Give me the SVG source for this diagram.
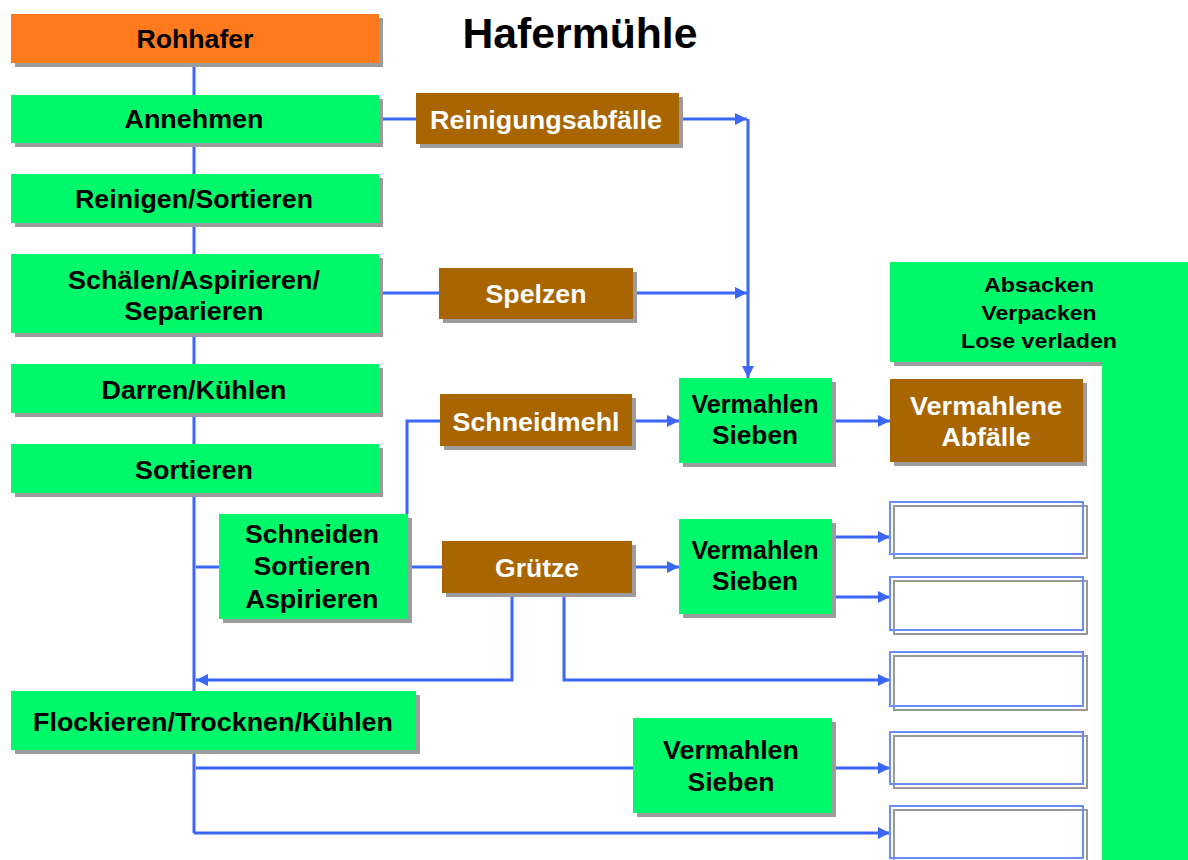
<svg xmlns="http://www.w3.org/2000/svg" width="1188" height="860" viewBox="0 0 1188 860">
<defs>
<style>
.sh{fill:#9c9c9c}
.g{fill:#00F96B}
.o{fill:#FF7A1C}
.b{fill:#A86500}
.t{font-family:"Liberation Sans",Arial,sans-serif;font-weight:bold;font-size:25px;text-anchor:middle;fill:#000}
.w{fill:#fff}
.c{fill:none;stroke:#3B66F7;stroke-width:3}
.eb{fill:none;stroke:#6B8DF8;stroke-width:2}
.es{fill:none;stroke:#999;stroke-width:2}
</style>
<marker id="ar" markerUnits="userSpaceOnUse" markerWidth="14" markerHeight="12" refX="12" refY="6" orient="auto">
<path d="M0,0 L12,6 L0,12 z" fill="#3B66F7"/>
</marker>
</defs>
<rect width="1188" height="860" fill="#fff"/>
<text x="580" y="48" class="t" style="font-size:43px" textLength="235" lengthAdjust="spacingAndGlyphs">Hafermühle</text>

<g id="connectors">
<path class="c" d="M194,63 V833"/>
<path class="c" d="M379,119 H416"/>
<path class="c" d="M679,119 H747" marker-end="url(#ar)"/>
<path class="c" d="M748,119 V378" marker-end="url(#ar)"/>
<path class="c" d="M379,293 H439"/>
<path class="c" d="M633,293 H747" marker-end="url(#ar)"/>
<path class="c" d="M407,514 V421 H440"/>
<path class="c" d="M632,421 H679" marker-end="url(#ar)"/>
<path class="c" d="M832,421 H890" marker-end="url(#ar)"/>
<path class="c" d="M196,567 H219"/>
<path class="c" d="M408,567 H442"/>
<path class="c" d="M632,567 H679" marker-end="url(#ar)"/>
<path class="c" d="M832,537 H890" marker-end="url(#ar)"/>
<path class="c" d="M832,597 H890" marker-end="url(#ar)"/>
<path class="c" d="M512,593 V680 H196" marker-end="url(#ar)"/>
<path class="c" d="M564,593 V680 H890" marker-end="url(#ar)"/>
<path class="c" d="M196,768 H633"/>
<path class="c" d="M832,768 H890" marker-end="url(#ar)"/>
<path class="c" d="M194,833 H890" marker-end="url(#ar)"/>
</g>

<g id="rohhafer">
<rect class="sh" x="15" y="18" width="368" height="49"/>
<rect class="o" x="11" y="14" width="368" height="49"/>
<text class="t" x="195" y="48" textLength="117" lengthAdjust="spacingAndGlyphs">Rohhafer</text>
</g>
<g id="annehmen">
<rect class="sh" x="15" y="99" width="368" height="48"/>
<rect class="g" x="11" y="95" width="368" height="48"/>
<text class="t" x="194" y="128" textLength="139" lengthAdjust="spacingAndGlyphs">Annehmen</text>
</g>
<g id="reinigen">
<rect class="sh" x="15" y="178" width="368" height="49"/>
<rect class="g" x="11" y="174" width="368" height="49"/>
<text class="t" x="194" y="208" textLength="238" lengthAdjust="spacingAndGlyphs">Reinigen/Sortieren</text>
</g>
<g id="schaelen">
<rect class="sh" x="15" y="258" width="368" height="79"/>
<rect class="g" x="11" y="254" width="368" height="79"/>
<text class="t" x="194" y="289" textLength="252" lengthAdjust="spacingAndGlyphs">Schälen/Aspirieren/</text>
<text class="t" x="194" y="320" textLength="139" lengthAdjust="spacingAndGlyphs">Separieren</text>
</g>
<g id="darren">
<rect class="sh" x="15" y="368" width="368" height="49"/>
<rect class="g" x="11" y="364" width="368" height="49"/>
<text class="t" x="194" y="399" textLength="185" lengthAdjust="spacingAndGlyphs">Darren/Kühlen</text>
</g>
<g id="sortieren">
<rect class="sh" x="15" y="448" width="368" height="49"/>
<rect class="g" x="11" y="444" width="368" height="49"/>
<text class="t" x="194" y="479" textLength="118" lengthAdjust="spacingAndGlyphs">Sortieren</text>
</g>
<g id="flockieren">
<rect class="sh" x="15" y="695" width="405" height="59"/>
<rect class="g" x="11" y="691" width="405" height="59"/>
<text class="t" x="213" y="731" textLength="360" lengthAdjust="spacingAndGlyphs">Flockieren/Trocknen/Kühlen</text>
</g>
<g id="schneiden">
<rect class="sh" x="223" y="518" width="189" height="105"/>
<rect class="g" x="219" y="514" width="189" height="105"/>
<text class="t" x="312" y="543" textLength="134" lengthAdjust="spacingAndGlyphs">Schneiden</text>
<text class="t" x="312" y="575" textLength="117" lengthAdjust="spacingAndGlyphs">Sortieren</text>
<text class="t" x="312" y="608" textLength="133" lengthAdjust="spacingAndGlyphs">Aspirieren</text>
</g>
<g id="reinigungsabfaelle">
<rect class="sh" x="420" y="97" width="263" height="51"/>
<rect class="b" x="416" y="93" width="263" height="51"/>
<text class="t w" x="546" y="129" textLength="232" lengthAdjust="spacingAndGlyphs">Reinigungsabfälle</text>
</g>
<g id="spelzen">
<rect class="sh" x="443" y="272" width="194" height="51"/>
<rect class="b" x="439" y="268" width="194" height="51"/>
<text class="t w" x="536" y="303" textLength="101" lengthAdjust="spacingAndGlyphs">Spelzen</text>
</g>
<g id="schneidmehl">
<rect class="sh" x="444" y="398" width="192" height="52"/>
<rect class="b" x="440" y="394" width="192" height="52"/>
<text class="t w" x="536" y="431" textLength="167" lengthAdjust="spacingAndGlyphs">Schneidmehl</text>
</g>
<g id="gruetze">
<rect class="sh" x="446" y="545" width="190" height="52"/>
<rect class="b" x="442" y="541" width="190" height="52"/>
<text class="t w" x="537" y="577" textLength="84" lengthAdjust="spacingAndGlyphs">Grütze</text>
</g>
<g id="vermahlen1">
<rect class="sh" x="683" y="382" width="153" height="85"/>
<rect class="g" x="679" y="378" width="153" height="85"/>
<text class="t" x="755" y="413" textLength="127" lengthAdjust="spacingAndGlyphs">Vermahlen</text>
<text class="t" x="755" y="444" textLength="86" lengthAdjust="spacingAndGlyphs">Sieben</text>
</g>
<g id="vermahlen2">
<rect class="sh" x="683" y="523" width="153" height="95"/>
<rect class="g" x="679" y="519" width="153" height="95"/>
<text class="t" x="755" y="559" textLength="127" lengthAdjust="spacingAndGlyphs">Vermahlen</text>
<text class="t" x="755" y="590" textLength="86" lengthAdjust="spacingAndGlyphs">Sieben</text>
</g>
<g id="vermahlen3">
<rect class="sh" x="637" y="722" width="199" height="95"/>
<rect class="g" x="633" y="718" width="199" height="95"/>
<text class="t" x="731" y="759" textLength="136" lengthAdjust="spacingAndGlyphs">Vermahlen</text>
<text class="t" x="731" y="791" textLength="87" lengthAdjust="spacingAndGlyphs">Sieben</text>
</g>
<g id="vermahlene-abfaelle">
<rect class="sh" x="894" y="383" width="193" height="83"/>
<rect class="b" x="890" y="379" width="193" height="83"/>
<text class="t w" x="986" y="415" textLength="152" lengthAdjust="spacingAndGlyphs">Vermahlene</text>
<text class="t w" x="986" y="446" textLength="89" lengthAdjust="spacingAndGlyphs">Abfälle</text>
</g>
<g id="absacken">
<rect class="sh" x="894" y="266" width="212" height="100"/>
<path class="g" d="M890,262 H1188 V860 H1102 V362 H890 Z"/>
<text class="t" style="font-size:21px" x="1039" y="292" textLength="110" lengthAdjust="spacingAndGlyphs">Absacken</text>
<text class="t" style="font-size:21px" x="1039" y="320" textLength="115" lengthAdjust="spacingAndGlyphs">Verpacken</text>
<text class="t" style="font-size:21px" x="1039" y="348" textLength="156" lengthAdjust="spacingAndGlyphs">Lose verladen</text>
</g>
<g id="leer1"><rect class="es" x="894" y="506" width="193" height="52"/><rect class="eb" x="890" y="502" width="193" height="52"/></g>
<g id="leer2"><rect class="es" x="894" y="581" width="193" height="53"/><rect class="eb" x="890" y="577" width="193" height="53"/></g>
<g id="leer3"><rect class="es" x="894" y="656" width="193" height="54"/><rect class="eb" x="890" y="652" width="193" height="54"/></g>
<g id="leer4"><rect class="es" x="894" y="736" width="193" height="52"/><rect class="eb" x="890" y="732" width="193" height="52"/></g>
<g id="leer5"><rect class="es" x="894" y="810" width="193" height="52"/><rect class="eb" x="890" y="806" width="193" height="52"/></g>
</svg>
